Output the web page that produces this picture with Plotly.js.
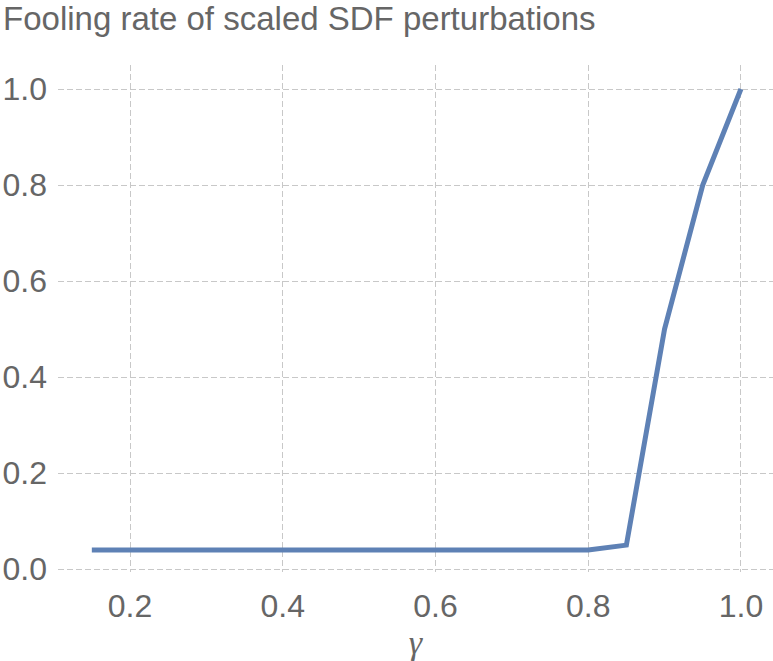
<!DOCTYPE html>
<html>
<head>
<meta charset="utf-8">
<script src="https://cdn.plot.ly/plotly-3.0.1.min.js"></script>
<style>
  html, body { margin: 0; padding: 0; background: #fff; }
  #chart { width: 773px; height: 661px; }
</style>
</head>
<body>
<div id="chart"></div>
<script>
// gamma (scale factor) vs fooling rate
const gamma = [0.15, 0.2, 0.25, 0.3, 0.35, 0.4, 0.45, 0.5, 0.55, 0.6, 0.65, 0.7, 0.75, 0.8, 0.85, 0.9, 0.95, 1.0];
const foolingRate = [0.04, 0.04, 0.04, 0.04, 0.04, 0.04, 0.04, 0.04, 0.04, 0.04, 0.04, 0.04, 0.04, 0.04, 0.05, 0.5, 0.8, 1.0];
const xTicks = [0.2, 0.4, 0.6, 0.8, 1.0];
const yTicks = [0.0, 0.2, 0.4, 0.6, 0.8, 1.0];

const textGray = '#666666';
const font = 'Liberation Sans, Arial, Helvetica, sans-serif';

const axis = {
  showgrid: true,
  gridcolor: '#c8c8c8',
  gridwidth: 1,
  griddash: '6px,3px',
  zeroline: false,
  showline: false,
  ticks: '',
  tickfont: { family: font, size: 32, color: textGray },
  tickformat: '.1f',
};

Plotly.newPlot('chart', [{
  type: 'scatter',
  mode: 'lines',
  x: gamma,
  y: foolingRate,
  line: { color: '#5e81b5', width: 5 },
  hoverinfo: 'x+y',
}], {
  width: 773,
  height: 661,
  paper_bgcolor: '#ffffff',
  plot_bgcolor: '#ffffff',
  showlegend: false,
  margin: { l: 58, r: 0, t: 65, b: 89 },
  title: {
    text: 'Fooling rate of scaled SDF perturbations',
    font: { family: font, size: 33, color: textGray },
    xref: 'container', x: 0.004, xanchor: 'left',
    yref: 'container', y: 0.99, yanchor: 'top',
  },
  xaxis: {
    ...axis,
    range: [0.1057, 1.042],
    tickvals: xTicks,
    ticklabelstandoff: 12,
    title: {
      text: 'γ',
      font: { family: 'Liberation Serif, Times New Roman, serif', size: 34, color: textGray, style: 'italic' },
      standoff: 0,
    },
  },
  yaxis: {
    ...axis,
    range: [-0.006, 1.05],
    tickvals: yTicks,
    ticklabelstandoff: 10,
  },
}, { displayModeBar: false, responsive: false });
</script>
</body>
</html>
